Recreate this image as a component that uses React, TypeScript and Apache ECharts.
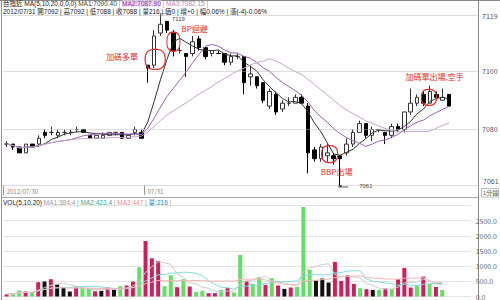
import React, { useEffect, useRef } from "react";
import * as echarts from "echarts";

// ---- data (1-minute bars, 台指近) ----
const opens = [7075,7075,7074,7072,7075,7075,7079,7079,7078,7079,7079,7080,7080,7078,7077,7077,7078,7079,7079,7077,7079,7079,
  7102,7102,7113,7117,7113,7107,7106,7106,7111,7108,7106,7106,7106,7103,7105,7105,7098,7098,7096,7088,7092,7087,7089,7089,7091,7088,
  7073,7070,7071,7071,7071,7072,7075,7079,7082,7078,7080,7079,7078,7081,7080,7086,7089,7092,7089,7092,7090,7092];
const highs = [7076,7075,7074,7075,7075,7078,7080,7081,7080,7080,7080,7081,7080,7078,7078,7079,7079,7079,7079,7078,7081,7080,
  7102,7114,7119,7117,7114,7108,7106,7112,7112,7108,7107,7107,7106,7106,7106,7105,7102,7098,7096,7094,7093,7090,7091,7092,7092,7089,
  7074,7075,7075,7072,7071,7077,7080,7083,7082,7081,7080,7079,7082,7082,7086,7094,7092,7093,7095,7093,7094,7092];
const lows = [7074,7073,7072,7072,7074,7074,7077,7078,7077,7078,7078,7079,7079,7077,7077,7077,7078,7078,7077,7077,7078,7077,
  7096,7101,7112,7113,7105,7106,7098,7105,7107,7104,7105,7106,7102,7102,7104,7092,7095,7094,7089,7087,7085,7086,7088,7089,7089,7065,
  7069,7069,7069,7068,7061,7071,7074,7079,7077,7076,7079,7075,7077,7079,7079,7085,7088,7088,7089,7090,7090,7088];
const closes = [7075,7074,7072,7075,7074,7077,7078,7079,7079,7079,7079,7080,7079,7077,7078,7078,7079,7079,7077,7078,7080,7077,
  7101,7112,7116,7114,7107,7107,7105,7110,7108,7105,7107,7106,7103,7105,7105,7096,7099,7095,7090,7093,7086,7089,7089,7091,7089,7072,
  7070,7074,7072,7070,7070,7075,7079,7082,7078,7080,7080,7078,7081,7080,7086,7089,7091,7089,7093,7091,7091,7088];
const volumes = [77,88,197,164,132,471,493,570,395,307,164,296,274,252,175,186,296,241,340,362,493,964,
  1830,1260,1173,340,701,307,570,329,153,186,110,110,219,274,132,1370,515,416,636,384,603,362,252,296,318,2950,
  877,526,592,460,1140,515,701,416,274,241,219,219,263,252,570,943,296,351,658,416,318,216];
// r = up (red), g = down (green), k = black
const volKinds = ["r","g","g","r","g","r","k","r","k","k","k","r","g","g","r","k","r","k","g","r","r","g",
  "r","r","r","g","g","r","g","r","g","g","r","r","g","r","g","g","r","g","g","r","g","r","k","r","g","g",
  "g","k","k","k","r","r","r","r","g","r","k","g","r","g","r","r","r","g","r","g","r","g"];
const dayLabels = ["2012/07/30", "07/31"];
const dayStarts = [0, 22];
const priceGridValues = [7119, 7100, 7080, 7061];
const lastClose = 7088;
const priceMin = 7061;
const priceMax = 7119;
const volTicks = [0, 500, 1000, 1500, 2000, 2500];
const padCount = 4;

const RED = "#d9302c";
const FONT = "'Noto Sans CJK TC', 'Liberation Sans', sans-serif";
const HFONT = "'Liberation Sans', 'Noto Sans CJK TC', sans-serif";

function movingAvg(arr: number[], n: number) {
  return arr.map((_, i) => {
    const s = Math.max(0, i - n + 1);
    let sum = 0;
    for (let j = s; j <= i; j++) sum += arr[j];
    return +(sum / (i - s + 1)).toFixed(2);
  });
}

export default function App() {
  const ref = useRef<HTMLDivElement>(null);
  useEffect(() => {
    if (!ref.current) return;
    const chart = echarts.init(ref.current, undefined, { renderer: "svg" });
    const n = closes.length;
    const cats = Array.from({ length: n + padCount }, (_, i) => String(i));
    const pad = Array(padCount).fill(null);
    const candle = opens.map((o, i) => [o, closes[i], lows[i], highs[i]]);
    const ma = (arr: number[], k: number) => [...movingAvg(arr, k), ...pad];
    const volColorMap: Record<string, string> = { r: "#cc1f5e", g: "#66dd66", k: "#111111" };
    const volData = volumes.map((v, i) => ({ value: v, itemStyle: { color: volColorMap[volKinds[i]] } }));
    const rr = "path://M4,0L6,0A4,4 0 0 1 10,4L10,6A4,4 0 0 1 6,10L4,10A4,4 0 0 1 0,6L0,4A4,4 0 0 1 4,0Z";
    const ring = (coord: any[], size: number[], offset: number[]) => ({
      coord, symbol: rr, symbolSize: size, symbolOffset: offset,
      itemStyle: { color: "rgba(0,0,0,0)", borderColor: RED, borderWidth: 1.2 },
      label: { show: false },
    });
    const note = (coord: any[], text: string, offset: number[], color = RED, size = 8) => ({
      coord, symbol: "circle", symbolSize: 1,
      itemStyle: { color: "rgba(0,0,0,0)" },
      label: { show: true, position: "inside", formatter: text, color, fontSize: size, fontFamily: size < 8 ? HFONT : FONT, offset },
    });
    const lineSeries = (name: string, data: any[], color: string, gi: number) => ({
      name, type: "line", data, xAxisIndex: gi, yAxisIndex: gi, symbol: "none", showSymbol: false,
      lineStyle: { color, width: 1 }, silent: true, z: 3,
    });
    const hdr = (fill: string, extra: any = {}) => ({ fill, fontSize: 6.5, lineHeight: 7, fontFamily: HFONT, ...extra });

    chart.setOption({
      animation: false,
      backgroundColor: "#ffffff",
      grid: [
        { left: 3.5, right: 22, top: 15.5, height: 169.5 },
        { left: 3.5, right: 22, top: 205.5, bottom: 3.3 },
      ],
      xAxis: [
        {
          type: "category", gridIndex: 0, data: cats, boundaryGap: true,
          axisLine: { show: false },
          axisTick: { show: true, length: 10, interval: (i: number) => dayStarts.includes(i), lineStyle: { color: "#999" } },
          axisLabel: {
            interval: (i: number) => dayStarts.includes(i),
            formatter: (_v: string, i: number) => { const k = dayStarts.indexOf(i); return k >= 0 ? dayLabels[k] : ""; },
            align: "left", fontSize: 6, color: "#888", margin: 3, fontFamily: FONT,
          },
        },
        {
          type: "category", gridIndex: 1, data: cats, boundaryGap: true,
          axisLine: { show: false }, axisTick: { show: false }, axisLabel: { show: false },
        },
      ],
      yAxis: [
        {
          type: "value", gridIndex: 0, min: priceMin, max: priceMax, position: "right",
          axisLine: { show: false }, axisTick: { show: false }, axisLabel: { show: false }, splitLine: { show: false },
        },
        {
          type: "value", gridIndex: 1, min: 0, max: 3000, interval: 500, position: "right",
          axisLine: { show: false }, axisTick: { show: false },
          axisLabel: {
            formatter: (v: number) => (volTicks.includes(v) ? v.toFixed(1) : ""),
            fontSize: 7, color: "#666", margin: 5, fontFamily: FONT,
          },
          splitLine: { show: true, lineStyle: { type: "dotted", color: "#c8c8c8", width: 1 } },
        },
      ],
      series: [
        {
          type: "candlestick", xAxisIndex: 0, yAxisIndex: 0, data: candle, barWidth: 4,
          itemStyle: { color: "#ffffff", color0: "#000000", borderColor: "#333333", borderColor0: "#000000", borderWidth: 1 },
          markLine: {
            silent: true, symbol: ["none", "none"], animation: false,
            lineStyle: { type: "dotted", color: "#bbbbbb", width: 1 },
            label: { position: "end", formatter: (p: any) => String(p.value), fontSize: 7, lineHeight: 7, color: "#555", distance: 4, fontFamily: FONT },
            data: [
              ...priceGridValues.map((v) => (v === priceMin
                ? { yAxis: v, label: { show: false } }
                : { yAxis: v })),
              { yAxis: lastClose, lineStyle: { opacity: 0 }, label: { color: RED } },
            ],
          },
          markPoint: {
            silent: true, animation: false,
            data: [
              ring([23, 7104], [20, 20], [1, 0]),
              ring([26, 7110], [13, 19], [0, 0]),
              ring([50, 7071.6], [16, 17], [2.3, 0]),
              ring([66, 7091], [15, 16], [-1, 0]),
              note([18, 7105], "加碼多單", [0, 0]),
              note([29, 7114.6], "BP迴避", [2, 0]),
              note([52, 7065.6], "BBP出場", [-3.5, 0]),
              note([67, 7098], "加碼單出場,空手", [-1.7, 0]),
              note([n + padCount - 1, priceMin], String(priceMin), [16, -3.5], "#555", 7),
              {
                coord: [24, priceMax], symbol: "path://M0,4L0,0L7,0", symbolSize: [7, 4], symbolOffset: [3.5, 0],
                itemStyle: { color: "none", borderColor: "#555", borderWidth: 0.8 },
                label: { show: true, position: "right", formatter: String(priceMax), fontSize: 6, lineHeight: 6, color: "#444", distance: 1, offset: [0, 3.5], fontFamily: HFONT },
              },
              {
                coord: [52, priceMin], symbol: "path://M0,0L0,2L8,2", symbolSize: [8, 2], symbolOffset: [4, 1],
                itemStyle: { color: "none", borderColor: "#555", borderWidth: 0.8 },
                label: { show: true, position: "right", formatter: String(priceMin), fontSize: 6, lineHeight: 6, color: "#444", distance: 1, fontFamily: HFONT },
              },
            ],
          },
        },
        lineSeries("MA5", ma(closes, 5), "#333333", 0),
        lineSeries("MA10", ma(closes, 10), "#9a62b0", 0),
        lineSeries("MA20", ma(closes, 20), "#c4a6cc", 0),
        { type: "bar", xAxisIndex: 1, yAxisIndex: 1, data: volData, barWidth: 4, silent: true },
        lineSeries("VMA5", ma(volumes, 5), "#cccccc", 1),
        lineSeries("VMA10", ma(volumes, 10), "#86dada", 1),
        lineSeries("VMA20", ma(volumes, 20), "#f2b8b8", 1),
      ],
      graphic: [
        { type: "line", silent: true, shape: { x1: 0, y1: 0.5, x2: 500, y2: 0.5 }, style: { stroke: "#888", lineWidth: 1 } },
        { type: "line", silent: true, shape: { x1: 1.5, y1: 0, x2: 1.5, y2: 300 }, style: { stroke: "#999", lineWidth: 1 } },
        { type: "line", silent: true, shape: { x1: 478.5, y1: 0, x2: 478.5, y2: 300 }, style: { stroke: "#888", lineWidth: 1 } },
        { type: "line", silent: true, shape: { x1: 1.5, y1: 197.5, x2: 478.5, y2: 197.5 }, style: { stroke: "#aaa", lineWidth: 1 } },
        {
          type: "text", silent: true, left: 3, top: 0,
          style: {
            text: "{k|台指近 MA(5,10,20,0,0,0)} {a|MA1:7090.40}{s| | }{b|MA2:7087.90}{s| | }{c|MA3:7082.15}{s| |}",
            font: `6.5px ${HFONT}`, lineHeight: 7,
            rich: {
              k: hdr("#222"),
              a: hdr("#444"),
              b: hdr("#8a3c9c", { backgroundColor: "#e8d8f0" }),
              c: hdr("#b08aa8"),
              s: hdr("#999"),
            },
          },
        },
        {
          type: "text", silent: true, left: 3, top: 7.5,
          style: {
            text: "2012/07/31 開7092 | 高7092 | 低7088 | 收7088 | 量216 | 值0 | 增+0 | 幅0.06% | 漲(-4)-0.06%",
            fill: "#222", font: `6.5px ${HFONT}`, lineHeight: 7,
          },
        },
        {
          type: "text", silent: true, left: 3, top: 198.5,
          style: {
            text: "{k|VOL(5,10,20)} {a|MA1:384.4}{s| | }{b|MA2:423.4}{s| | }{c|MA3:447}{s| | }{d|量:216}{s| |}",
            font: `6.5px ${HFONT}`, lineHeight: 7,
            rich: {
              k: hdr("#222"),
              a: hdr("#999"),
              b: hdr("#3aa89a"),
              c: hdr("#e09090"),
              d: hdr("#2f7fc0"),
              s: hdr("#999"),
            },
          },
        },
        { type: "rect", silent: true, shape: { x: 481.5, y: 188.5, width: 17, height: 8.5 }, style: { fill: "#fff", stroke: "#aaa", lineWidth: 0.8 } },
        { type: "text", silent: true, left: 483, top: 190, style: { text: "1分鐘", fill: "#555", font: `6px ${HFONT}`, lineHeight: 6 } },
      ],
    });
    return () => chart.dispose();
  }, []);
  return <div ref={ref} style={{ position: "fixed", left: 0, top: 0, width: 500, height: 300 }} />;
}
